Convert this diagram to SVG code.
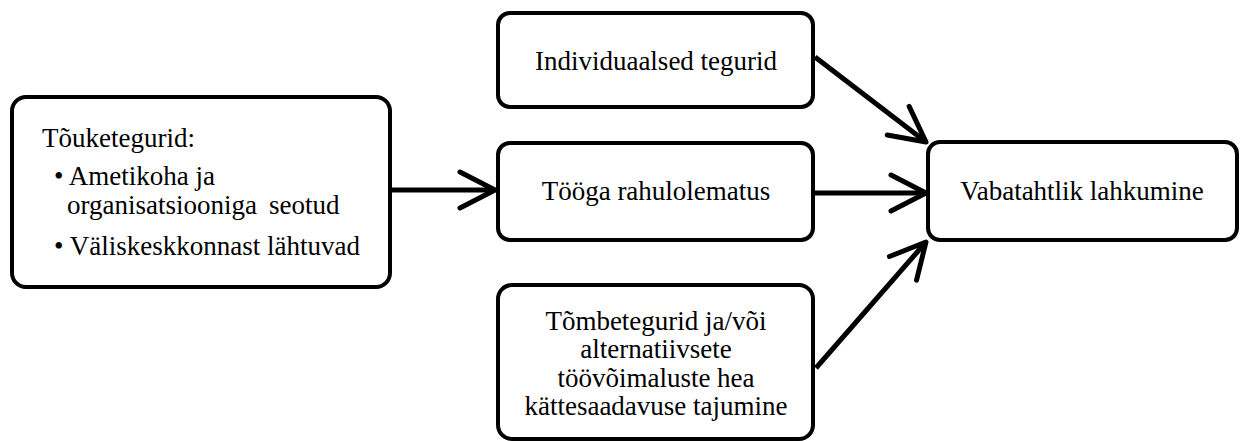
<svg xmlns="http://www.w3.org/2000/svg" width="1243" height="441" viewBox="0 0 1243 441">
<style>
.box{fill:#fff;stroke:#000;stroke-width:4}
.t{font-family:"Liberation Serif","Times New Roman",serif;font-size:27px;fill:#000}
.c{text-anchor:middle}
.conn{stroke:#000;stroke-width:5;fill:none}
</style>
<defs>
<marker id="arr" markerUnits="userSpaceOnUse" viewBox="-42 -24 48 48" markerWidth="48" markerHeight="48" refX="0" refY="0" orient="auto">
<path d="M-35,-18 L0,0 L-35,18" fill="none" stroke="#000" stroke-width="5" stroke-linecap="round" stroke-linejoin="round"/>
</marker>
</defs>
<rect width="1243" height="441" fill="#fff"/>
<g id="connectors">
<line class="conn" x1="391" y1="190" x2="495" y2="190" marker-end="url(#arr)"/>
<line class="conn" x1="815" y1="57" x2="926" y2="142" marker-end="url(#arr)"/>
<line class="conn" x1="815" y1="193" x2="926" y2="193" marker-end="url(#arr)"/>
<line class="conn" x1="816" y1="368" x2="926" y2="242" marker-end="url(#arr)"/>
</g>
<g id="n-touke">
<rect class="box" x="12" y="97" width="378" height="190" rx="14"/>
<text class="t" x="42" y="147">Tõuketegurid:</text>
<text class="t" x="54" y="185">• Ametikoha ja</text>
<text class="t" x="67" y="214">organisatsiooniga</text>
<text class="t" x="269" y="214">seotud</text>
<text class="t" x="54" y="255">• Väliskeskkonnast lähtuvad</text>
</g>
<g id="n-indiv">
<rect class="box" x="498" y="13" width="315" height="94" rx="12"/>
<text class="t c" x="656" y="70">Individuaalsed tegurid</text>
</g>
<g id="n-tooga">
<rect class="box" x="498" y="143" width="315" height="97" rx="12"/>
<text class="t c" x="656" y="200">Tööga rahulolematus</text>
</g>
<g id="n-tombe">
<rect class="box" x="498" y="285" width="315" height="154" rx="14"/>
<text class="t c" x="656" y="330">Tõmbetegurid ja/või</text>
<text class="t c" x="656" y="358">alternatiivsete</text>
<text class="t c" x="656" y="387">töövõimaluste hea</text>
<text class="t c" x="656" y="415">kättesaadavuse tajumine</text>
</g>
<g id="n-vaba">
<rect class="box" x="928" y="142" width="309" height="98" rx="12"/>
<text class="t c" x="1082" y="200">Vabatahtlik lahkumine</text>
</g>
</svg>
